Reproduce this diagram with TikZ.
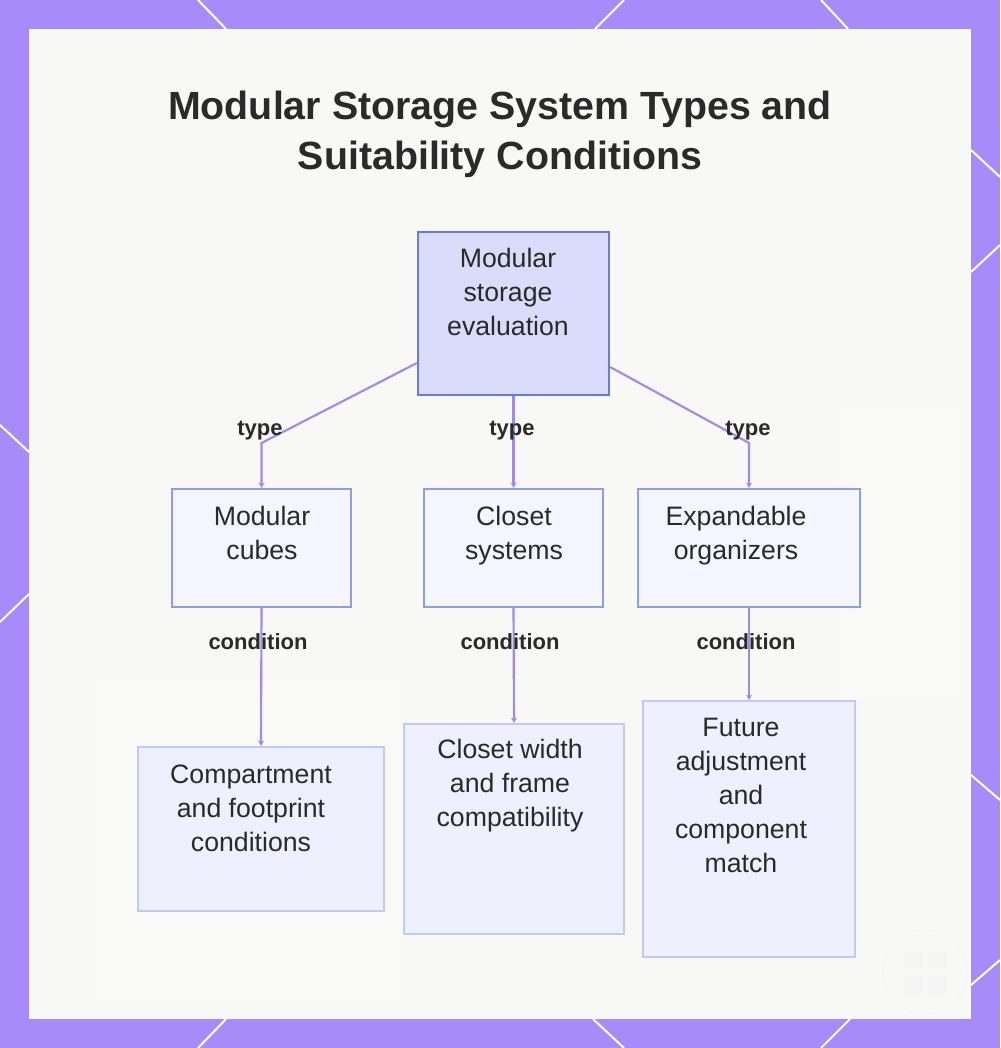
\documentclass[tikz,border=0pt]{standalone}
\usepackage{fontspec}
\setmainfont{Liberation Sans}
\usetikzlibrary{arrows.meta,fit}
\definecolor{bgpurple}{HTML}{A78BFA}
\definecolor{panel}{HTML}{F8F8F7}
\definecolor{edgec}{HTML}{A08AEE}
\definecolor{rootfill}{HTML}{DADCFB}
\definecolor{rootdraw}{HTML}{6A7BDC}
\definecolor{typefill}{HTML}{F4F5FE}
\definecolor{typedraw}{HTML}{8D9DE9}
\definecolor{condfill}{HTML}{EEF0FE}
\definecolor{conddraw}{HTML}{C3C9F5}
\definecolor{txt}{HTML}{2A2A2A}
\tikzset{
  rootbox/.style={draw=rootdraw,fill=rootfill,line width=1.6pt,inner sep=0pt},
  typebox/.style={draw=typedraw,fill=typefill,line width=1.6pt,inner sep=0pt},
  condbox/.style={draw=conddraw,fill=condfill,line width=1.6pt,inner sep=0pt},
  boxtext/.style={text=txt,align=center,inner sep=0pt,font=\fontsize{20pt}{25.5pt}\selectfont},
  edgelabel/.style={text=txt,inner sep=0pt,font=\fontsize{16.5pt}{20pt}\selectfont\bfseries},
  titletext/.style={text=txt,inner sep=0pt,font=\fontsize{29.5pt}{39pt}\selectfont\bfseries},
  edge/.style={draw=edgec,line width=1.6pt,-{Stealth[length=4pt,width=4.5pt]}},
  deco/.style={draw=white,line width=1.5pt}
}
\begin{document}
\begin{tikzpicture}[x=0.75pt,y=-0.75pt]
% background
\fill[bgpurple] (0,0) rectangle (1000,1048);
\useasboundingbox (0,0) rectangle (1000,1048);
% decorative lines on border
\draw[deco] (198,0) -- (226,29);
\draw[deco] (624,0) -- (595,29);
\draw[deco] (821,0) -- (848,29);
\draw[deco] (226,1019) -- (198,1048);
\draw[deco] (593,1019) -- (624,1048);
\draw[deco] (850,1019) -- (821,1048);
\draw[deco] (0,425) -- (29,452);
\draw[deco] (29,594) -- (0,622);
\draw[deco] (971,150) -- (1000,177);
\draw[deco] (971,272) -- (1000,245);
\draw[deco] (971,775) -- (1000,800);
\draw[deco] (971,985) -- (1000,960);
% panel
\fill[panel] (29,29) rectangle (971,1019);
\fill[black!2,opacity=0.6] (90,680) rectangle (400,1000);
\fill[black!2,opacity=0.6] (840,410) rectangle (960,700);
% watermark
\draw[black!5,line width=0.6pt,densely dotted] (925,972) circle (42);
\foreach \cx/\cy in {913/960,937/960,913/985,937/985}
  \fill[black!4] (\cx-9,\cy-9) rectangle (\cx+9,\cy+9);
% title
\node[titletext,anchor=base] (title1) at (500,120) {Modular Storage System Types and};
\node[titletext,anchor=base] (title2) at (500,170) {Suitability Conditions};
% boxes
\node[rootbox,fit={(418,232)(609,395)}] (root) {};
\node[typebox,fit={(172,489)(351,607)}] (cubes) {};
\node[typebox,fit={(424,489)(603,607)}] (closet) {};
\node[typebox,fit={(638,489)(860,607)}] (expand) {};
\node[condbox,fit={(138,747)(384,911)}] (comp) {};
\node[condbox,fit={(404,724)(624,934)}] (width) {};
\node[condbox,fit={(643,701)(855,957)}] (future) {};
% box texts
\node[boxtext] (troot) at (508,292) {Modular\\storage\\evaluation};
\node[boxtext] (tcubes) at (262,533) {Modular\\cubes};
\node[boxtext] (tcloset) at (514,536) {Closet\\systems};
\node[boxtext] (texpand) at (736,536) {Expandable\\organizers};
\node[boxtext] (tcomp) at (251,808) {Compartment\\and footprint\\conditions};
\node[boxtext] (twidth) at (510,786) {Closet width\\and frame\\compatibility};
\node[boxtext] (tfuture) at (741,795) {Future\\adjustment\\and\\component\\match};
% connectors
\coordinate (k1) at (261.5,443);
\coordinate (k3) at (749,443);
\draw[edge] (root.west |- 0,363) -- (k1) -- (cubes.north);
\draw[edge] (root.south) -- (closet.north);
\draw[edge] (root.east |- 0,367) -- (k3) -- (expand.north);
\draw[edge] (cubes.south) -- (comp.north);
\draw[edge] (closet.south) -- (width.north);
\draw[edge] (expand.south) -- (future.north);
% edge labels
\node[edgelabel] (l1) at (260,431) {type};
\node[edgelabel] (l2) at (512,431) {type};
\node[edgelabel] (l3) at (748,431) {type};
\node[edgelabel] (l4) at (258,642) {condition};
\node[edgelabel] (l5) at (510,642) {condition};
\node[edgelabel] (l6) at (746,642) {condition};
\end{tikzpicture}
\end{document}
